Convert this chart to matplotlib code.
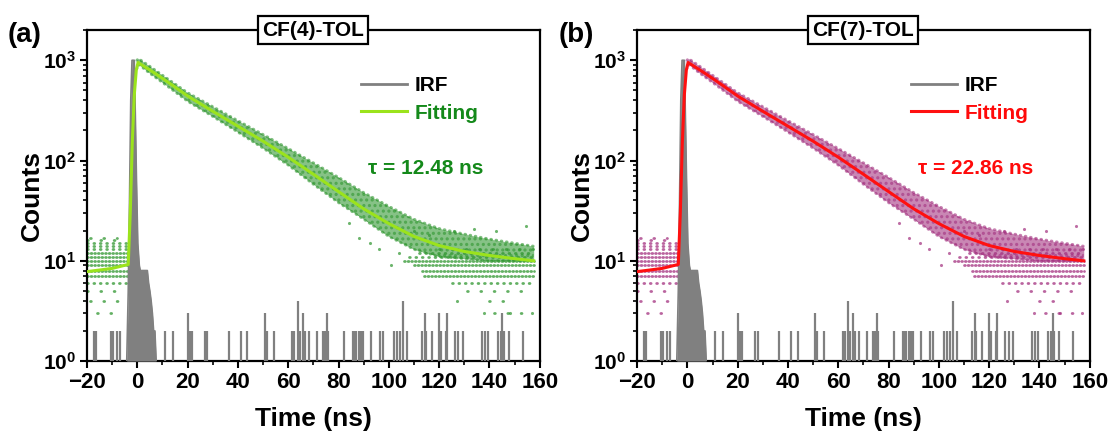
import numpy as np
import matplotlib
matplotlib.use("Agg")
import matplotlib.pyplot as plt
from matplotlib.lines import Line2D
from matplotlib.ticker import FixedLocator, MultipleLocator, LogLocator, NullFormatter

plt.rcParams['font.family'] = ['Liberation Sans', 'DejaVu Sans']
plt.rcParams['font.weight'] = 'bold'
plt.rcParams['mathtext.fontset'] = 'custom'
plt.rcParams['mathtext.rm'] = 'Liberation Sans:bold'
plt.rcParams['mathtext.bf'] = 'Liberation Sans:bold'
plt.rcParams['mathtext.it'] = 'Liberation Sans:bold'
plt.rcParams['hatch.linewidth'] = 1.5

# ---------------- data ----------------
titles = ["CF(4)-TOL", "CF(7)-TOL"]
panel_labels = ["(a)", "(b)"]
tau_texts = ["\u03c4 = 12.48 ns", "\u03c4 = 22.86 ns"]

# instrument response (same for both panels): peak envelope
irf_peak_t = [-4.2, -3.6, -3.1, -2.6, -2.1, -1.2, -0.8, -0.3, 0.2, 0.8, 1.2, 2.0, 3.0, 4.0, 4.5, 5.0, 5.5, 6.0, 6.5, 7.0, 7.5]
irf_peak_c = [1.0, 5.0, 40.0, 400.0, 1000.0, 1000.0, 300.0, 60.0, 15.0, 9.0, 8.0, 8.0, 8.0, 8.0, 6.0, 5.0, 4.0, 3.0, 2.0, 2.0, 1.0]
# instrument response: isolated spikes
irf_t = [-17.4, -16.4, -10.3, -9.6, -7.9, -6.9, 11.0, 14.0, 20.1, 20.9, 21.9, 26.9, 27.9,
         36.5, 41.4, 43.8, 50.7, 51.5, 54.3, 61.7, 62.5, 64.0, 64.5, 66.0, 66.7, 68.2,
         71.3, 73.8, 74.5, 75.3, 75.9, 82.0, 85.6, 86.3, 87.0, 88.0, 89.0, 89.8, 92.9,
         96.5, 97.6, 101.9, 103.3, 104.3, 105.7, 107.1, 113.1, 114.2, 114.7, 117.1,
         119.9, 120.6, 122.8, 123.2, 126.3, 127.7, 129.5, 137.0, 138.1, 139.5, 143.4,
         144.6, 145.2, 145.8, 147.6, 153.3]
irf_c = [2, 2, 2, 2, 2, 2, 2, 2, 3, 2, 2, 2, 2,
         2, 2, 2, 3, 2, 2, 2, 2, 4, 2, 3, 2, 2,
         2, 2, 2, 3, 2, 2, 2, 2, 2, 2, 2, 2, 2,
         2, 2, 2, 2, 2, 4, 2, 2, 3, 2, 2,
         3, 2, 2, 3, 2, 2, 2, 2, 2, 2, 2,
         2, 3, 2, 2, 2]

# fitted decay curves
fit_a_t = [-20, -10, -3.6, -2.8, -2.0, -1.2, -0.4, 0.3, 5, 10, 15, 20, 30, 40, 50, 60, 70, 80, 90, 100, 110, 120, 130, 140, 150, 157.6]
fit_a_c = [7.8, 8.4, 9.2, 30, 150, 450, 800, 950, 800, 660, 540, 440, 310, 220, 156, 108, 73, 49, 33, 23.5, 17.5, 14.2, 12.4, 11.3, 10.5, 10.0]
fit_b_t = [-20, -10, -3.6, -2.8, -2.0, -1.2, -0.4, 0.3, 5, 10, 15, 20, 30, 40, 50, 60, 70, 80, 90, 100, 110, 120, 130, 140, 150, 157.6]
fit_b_c = [7.8, 8.4, 9.2, 30, 150, 450, 800, 950, 800, 660, 540, 440, 310, 220, 156, 108, 73, 49, 33, 23.5, 17.5, 14.2, 12.4, 11.3, 10.5, 10.0]

# measured decay: dense band (upper / lower envelope)
band_a_t = [-0.2, 0.5, 5, 10, 20, 30, 40, 50, 60, 70, 80, 90, 100, 110, 120, 130, 140, 150, 157.6]
band_a_hi = [1000, 1040, 870, 710, 475, 345, 250, 182, 132, 95, 68, 48, 35, 26, 21, 18.5, 16.5, 15, 14]
band_a_lo = [820, 910, 740, 600, 390, 275, 192, 133, 90, 58, 38, 26, 17.5, 13, 11, 10.5, 10, 10, 10]
band_b_t = [-0.2, 0.5, 5, 10, 20, 30, 40, 50, 60, 70, 80, 90, 100, 110, 120, 130, 140, 150, 157.6]
band_b_hi = [1000, 1040, 870, 710, 475, 345, 250, 182, 132, 95, 68, 48, 35, 26, 21, 18.5, 16.5, 15, 14]
band_b_lo = [820, 910, 740, 600, 390, 275, 192, 133, 90, 58, 38, 26, 17.5, 13, 11, 10.5, 10, 10, 10]

# measured counts on integer levels: rows (level, start, end, how filled)
row_level = [17, 16, 15, 14, 13, 12, 11, 10, 9, 8, 7, 6, 5, 4, 3,
             13, 12, 11, 10, 9, 8, 7, 6, 5, 4, 3]
row_start = [-19, -20, -20, -20, -20, -20, -20, -20, -20, -20, -20, -20, -20, -19, -16,
             120, 112, 108, 106, 110, 113, 114, 125, 131, 140, 142]
row_end = [-8, -4, -4, -3.8, -3.8, -3.6, -3.6, -3.6, -3.6, -3.6, -3.6, -3.6, -4, -6, -8,
           157.6, 157.6, 157.6, 157.6, 157.6, 157.6, 157.6, 157.6, 155, 150, 157.6]
row_fill = ['s', 's', 'm', 'm', 'm', 'd', 'd', 'd', 'd', 'd', 'd', 'm', 's', 's', 's',
            's', 'm', 'm', 'd', 'd', 'd', 'd', 'm', 's', 's', 's']

# isolated outlier counts
out_t = [100.8, 127.0, 137.7, 148.0, 157.0, 126.0, 134.0, 142.7, 154.7, 96.0, 104.0, 88.0, 92.5, 84.0, 110.0, 116.0]
out_c = [9, 4, 3, 3, 3, 20, 21, 20, 22, 13, 12, 17, 15, 24, 20, 18]

# ---------------- styles ----------------
styles = [
    dict(dot='#2f962f', fit='#9be31c', txt='#14891a',
         fit_t=fit_a_t, fit_c=fit_a_c, bt=band_a_t, bh=band_a_hi, bl=band_a_lo),
    dict(dot='#a3307f', fit='#ff1010', txt='#ff0a0a',
         fit_t=fit_b_t, fit_c=fit_b_c, bt=band_b_t, bh=band_b_hi, bl=band_b_lo),
]
gaps = {'d': 1.0, 'm': 2.0, 's': 4.5}

fig = plt.figure(figsize=(11.11, 4.34), dpi=100)
lefts = [0.0783, 0.5734]
width = 0.4075
bottom, height = 0.168, 0.7627
irf_color = '#808080'

for i in range(2):
    st = styles[i]
    ax = fig.add_axes([lefts[i], bottom, width, height])
    ax.set_yscale('log')
    ax.set_xlim(-20, 160)
    ax.set_ylim(1, 2000)

    # measured data
    ax.fill_between(st['bt'], st['bl'], st['bh'], color=st['dot'], alpha=0.58, lw=0, zorder=2)
    ax.fill_between(st['bt'], st['bl'], st['bh'], facecolor='none', edgecolor=st['dot'],
                    hatch='...', alpha=0.6, lw=0, zorder=2)
    for env in (st['bh'], st['bl']):
        ax.plot(st['bt'], env, color=st['dot'], alpha=0.6, lw=2.0,
                linestyle=(0, (0.3, 1.6)), dash_capstyle='round', zorder=2)
    for lv, t0, t1, fl in zip(row_level, row_start, row_end, row_fill):
        ax.plot([t0, t1], [lv, lv], color=st['dot'], alpha=0.75, lw=2.0,
                linestyle=(0, (0.3, gaps[fl])), dash_capstyle='round',
                solid_capstyle='round', zorder=2)
    ax.scatter(out_t, out_c, s=5, color=st['dot'], alpha=0.7, lw=0, zorder=2)

    # IRF
    ax.fill_between(irf_peak_t, 1, irf_peak_c, color=irf_color, lw=0, zorder=3)
    ax.plot(irf_peak_t, irf_peak_c, color=irf_color, lw=1.2, zorder=3)
    ax.vlines(irf_t, 1, irf_c, color=irf_color, lw=1.6, zorder=3)

    # fit
    ax.plot(st['fit_t'], st['fit_c'], color=st['fit'], lw=2.2, zorder=4)

    # axes styling
    for sp in ax.spines.values():
        sp.set_linewidth(1.6)
    ax.xaxis.set_major_locator(MultipleLocator(20))
    ax.xaxis.set_minor_locator(MultipleLocator(10))
    ax.yaxis.set_major_locator(FixedLocator([1, 10, 100, 1000]))
    ax.yaxis.set_minor_locator(LogLocator(base=10, subs=np.arange(2, 10)))
    ax.yaxis.set_minor_formatter(NullFormatter())
    ax.set_yticklabels([r'$\mathbf{10^{0}}$', r'$\mathbf{10^{1}}$', r'$\mathbf{10^{2}}$', r'$\mathbf{10^{3}}$'])
    ax.set_xticks([-20, 0, 20, 40, 60, 80, 100, 120, 140, 160])
    ax.set_xticklabels(['\u221220', '0', '20', '40', '60', '80', '100', '120', '140', '160'])
    ax.tick_params(which='major', direction='out', length=5, width=1.5, labelsize=16, pad=3)
    ax.tick_params(axis='y', which='major', labelsize=15)
    ax.tick_params(which='minor', direction='out', length=3, width=1.2)
    for lab in ax.get_xticklabels() + ax.get_yticklabels():
        lab.set_fontweight('bold')

    ax.set_xlabel('Time (ns)', fontsize=19, fontweight='bold', labelpad=10)
    ax.set_ylabel('Counts', fontsize=19, fontweight='bold', labelpad=-1)

    # title box on top spine
    ax.text(0.5, 1.0, titles[i], transform=ax.transAxes, ha='center', va='center',
            fontsize=15, fontweight='bold', zorder=10,
            bbox=dict(boxstyle='square,pad=0.2', fc='white', ec='black', lw=1.6))

    # legend
    handles = [Line2D([], [], color=irf_color, lw=2.0), Line2D([], [], color=st['fit'], lw=2.2)]
    leg = ax.legend(handles, ['IRF', 'Fitting'], loc='upper left', bbox_to_anchor=(0.605, 0.86),
                    frameon=False, borderpad=0, borderaxespad=0, handlelength=2.2,
                    handletextpad=0.4, labelspacing=0.4,
                    prop=dict(size=15, weight='bold'), labelcolor=['black', st['txt']])

    ax.text(0.748, 0.583, tau_texts[i], transform=ax.transAxes, ha='center', va='center',
            fontsize=15, fontweight='bold', color=st['txt'])

    fig.text(lefts[i] - 0.071, 0.92, panel_labels[i], fontsize=20, fontweight='bold',
             ha='left', va='center')

fig.savefig('out.png', dpi=100)
